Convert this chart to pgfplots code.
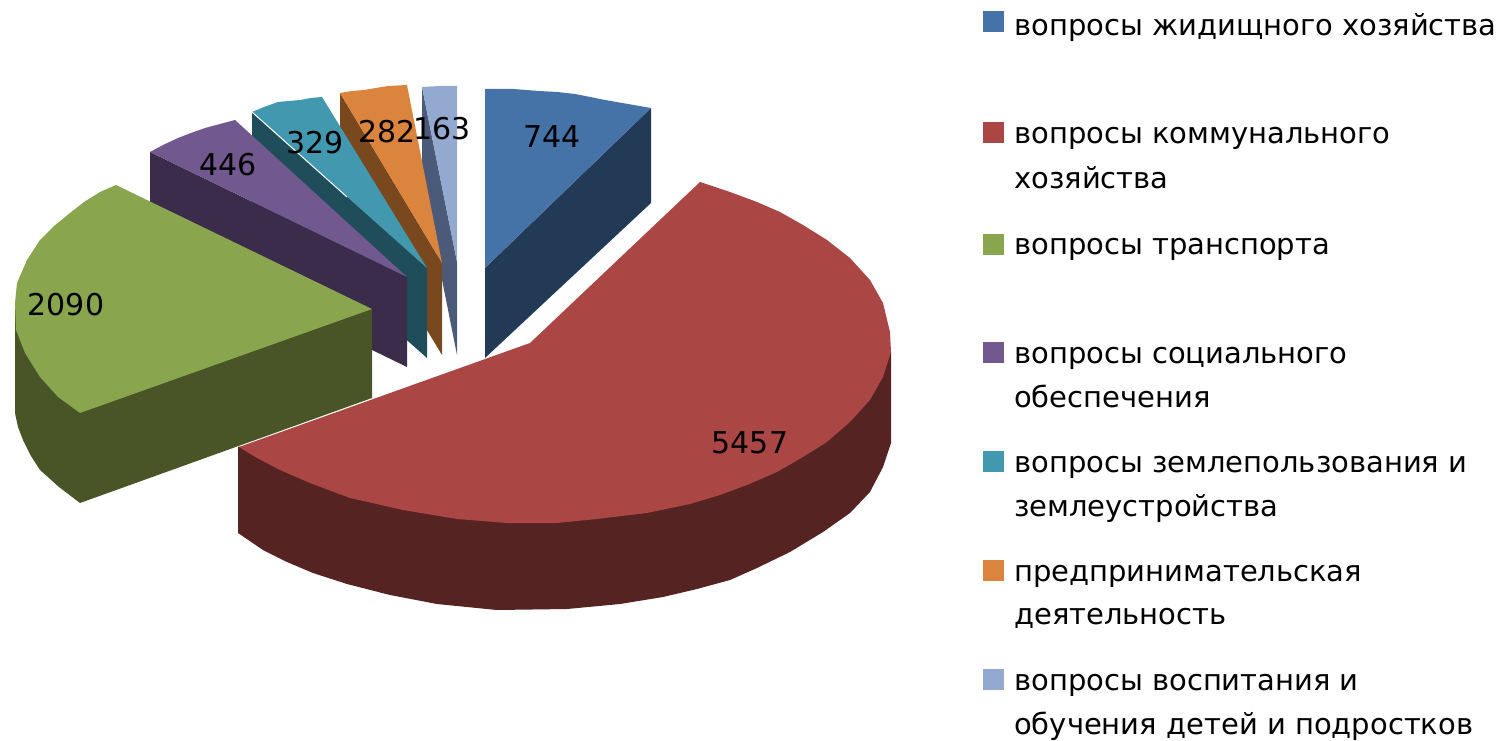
\documentclass[border=0pt]{standalone}
\usepackage{pgfplots}
\pgfplotsset{compat=1.18}
\usepackage{fontspec}
\setmainfont{DejaVu Sans}
% Office palette: top faces and darker side faces
\definecolor{blueT}{HTML}{4572A7}\definecolor{blueS}{HTML}{233A57}
\definecolor{redT}{HTML}{AA4643}\definecolor{redS}{HTML}{552322}
\definecolor{greenT}{HTML}{89A54E}\definecolor{greenS}{HTML}{495527}
\definecolor{purpleT}{HTML}{71588F}\definecolor{purpleS}{HTML}{3A2C4A}
\definecolor{tealT}{HTML}{4198AF}\definecolor{tealS}{HTML}{1F4E5A}
\definecolor{orangeT}{HTML}{DB843D}\definecolor{orangeS}{HTML}{7A481F}
\definecolor{skyT}{HTML}{93A9CF}\definecolor{skyS}{HTML}{4A5A78}
\newcommand{\lbl}{\fontsize{30}{30}\selectfont}
\newcommand{\leg}{\fontsize{29}{30}\selectfont}
\begin{document}
\begin{tikzpicture}
\begin{axis}[
  width=1499pt, height=741pt, scale only axis,
  xmin=0, xmax=1499, ymin=0, ymax=741, y dir=reverse,
  hide axis, clip=false,
  every axis plot/.append style={draw=none, line width=0pt},
]
% keeps the full canvas in the picture's bounding box
\path (axis cs:0,0) rectangle (axis cs:1499,741);
% smallest slice: education
\addplot[fill=skyS] coordinates {(422,87)(457,262)(457,355)(422,179)} --cycle;
\addplot[fill=skyT] coordinates {(422,87)(440,86)(457,86)(457,262)} --cycle;
% entrepreneurship
\addplot[fill=orangeS] coordinates {(340,93)(442,263)(442,355)(340,186)} --cycle;
\addplot[fill=orangeT] coordinates {(340,93)(352,91)(364,90)(376,88)(388,86)(407,85)(442,263)} --cycle;
% land use
\addplot[fill=tealS] coordinates {(252,112)(427,268)(427,358)(252,203)} --cycle;
\addplot[fill=tealT] coordinates {(252,112)(264,107)(278,102)(289,101)(300,100)(311,98)(322,97)(427,268)} --cycle;
\addplot[draw=white, line width=1pt] coordinates {(252,112)(347,197)};
% social security
\addplot[fill=purpleS] coordinates {(150,152)(407,277)(407,367)(150,242)} --cycle;
\addplot[fill=purpleT] coordinates {(150,152)(163,145)(178,138)(191,133)(205,128)(220,124)(235,120)(407,277)} --cycle;
% housing
\addplot[fill=blueS] coordinates {(485,268)(651,108)(651,203)(485,358)} --cycle;
\addplot[fill=blueT] coordinates {(485,89)(513,89)(539,91)(557,92)(575,94)(590,97)(605,100)(628,104)(651,108)(485,268)} --cycle;
% transport
\addplot[fill=greenS] coordinates {(15,303)(15,413)(18,427)(23,440)(31,456)(40,470)(59,487)(80,503)(372,398)(372,309)} --cycle;
\addplot[fill=greenT] coordinates {(372,309)(116,185)(100,192)(84,202)(70,213)(54,226)(40,240)(27,260)(17,283)(15,303)
  (16,330)(25,353)(40,377)(58,397)(80,413)} --cycle;
% communal services
\addplot[fill=redS] coordinates {(238,447)(238,533)(263,550)(287,562)(313,573)(347,584)(390,595)(437,604)(497,610)
  (567,609)(620,604)(663,597)(697,589)(730,580)(757,568)(790,552)(823,532)(850,513)(870,492)(883,467)(891,443)(891,352)} --cycle;
\addplot[fill=redT] coordinates {(239,447)(530,343)(700,182)(730,192)(757,202)(780,212)(803,225)(827,240)
  (850,258)(870,280)(883,303)(890,332)(891,352)(883,377)(870,400)(850,422)(827,442)(803,457)(777,472)(747,485)
  (720,495)(690,504)(647,513)(597,519)(557,523)(507,523)(457,519)(403,510)(350,498)(310,483)(280,470)(257,458)} --cycle;
% value labels
\node[font=\lbl] at (axis cs:552,137) {744};
\node[font=\lbl] at (axis cs:750,443) {5457};
\node[font=\lbl] at (axis cs:66,305) {2090};
\node[font=\lbl] at (axis cs:228,165) {446};
\node[font=\lbl] at (axis cs:315,143) {329};
\node[font=\lbl] at (axis cs:387,132) {282};
\node[font=\lbl] at (axis cs:442,129) {163};
% legend swatches
\addplot[only marks, mark=square*, mark size=10pt, blueT]   coordinates {(993.5,22)};
\addplot[only marks, mark=square*, mark size=10pt, redT]    coordinates {(993.5,133)};
\addplot[only marks, mark=square*, mark size=10pt, greenT]  coordinates {(993.5,244)};
\addplot[only marks, mark=square*, mark size=10pt, purpleT] coordinates {(993.5,352)};
\addplot[only marks, mark=square*, mark size=10pt, tealT]   coordinates {(993.5,461)};
\addplot[only marks, mark=square*, mark size=10pt, orangeT] coordinates {(993.5,570)};
\addplot[only marks, mark=square*, mark size=10pt, skyT]    coordinates {(993.5,679)};
% legend text
\foreach \y/\t in {27/вопросы жидищного хозяйства, 135/вопросы коммунального, 179/хозяйства,
    245/вопросы транспорта, 354/вопросы социального, 398/обеспечения,
    463/вопросы землепользования и, 507/землеустройства, 572/предпринимательская,
    615/деятельность, 681/вопросы воспитания и, 725/обучения детей и подростков} {
  \edef\temp{\noexpand\node[anchor=base west, font=\noexpand\leg, inner sep=0pt] at (axis cs:1014,\y+9) {\t};}
  \temp
}
\end{axis}
\end{tikzpicture}
\end{document}
